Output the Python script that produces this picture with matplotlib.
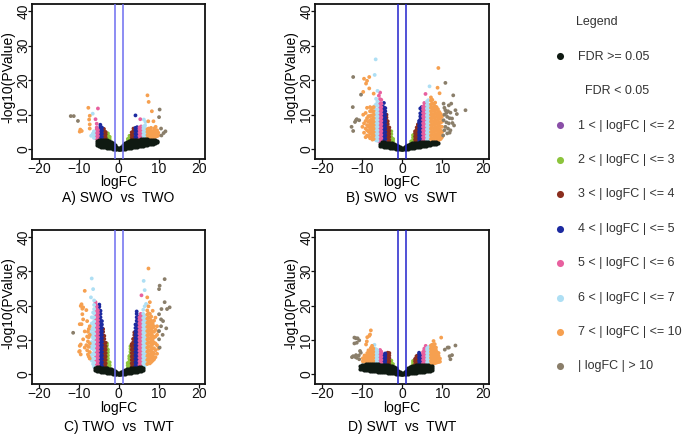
import numpy as np
import matplotlib
matplotlib.use("Agg")
import matplotlib.pyplot as plt

plt.rcParams['font.family'] = ['Liberation Sans', 'DejaVu Sans']

# ---------------- data (logFC, [-log10(PValue) values]) ----------------
panel_titles = ["A) SWO  vs  TWO", "B) SWO  vs  SWT", "C) TWO  vs  TWT", "D) SWT  vs  TWT"]

# FDR >= 0.05 (non significant) points
A_ns = [(-5.5,[1.2,1.9,2.5]),(-5.0,[0.9,1.6,2.3,2.8]),(-4.5,[0.8,1.5,2.2,2.8]),(-4.0,[0.7,1.4,2.1,2.8]),
        (-3.5,[0.6,1.3,2.0,2.7]),(-3.0,[0.5,1.2,1.9,2.6]),(-2.5,[0.4,1.1,1.8,2.4]),(-2.0,[0.3,0.9,1.6,2.2]),
        (-1.5,[0.2,0.8,1.4,1.9]),(-1.0,[0.1,0.6,1.2]),(-0.6,[0.05,0.4,0.8]),(-0.3,[0.0,0.35]),(0.0,[0.0,0.15]),
        (0.3,[0.0,0.35]),(0.6,[0.05,0.4,0.8]),(1.0,[0.1,0.6,1.2]),(1.5,[0.2,0.8,1.4,1.9]),(2.0,[0.3,0.9,1.6,2.2]),
        (2.5,[0.4,1.1,1.8,2.4]),(3.0,[0.5,1.2,1.9,2.6]),(3.5,[0.6,1.3,2.0,2.7]),(4.0,[0.7,1.4,2.1,2.8]),
        (4.5,[0.8,1.5,2.2,2.8]),(5.0,[0.9,1.6,2.3,2.8]),(5.5,[1.0,1.7,2.4,2.9]),(6.0,[1.1,1.8,2.5,3.0]),
        (6.5,[1.2,1.9,2.6,3.0]),(7.0,[1.3,2.0,2.6,3.0]),(7.5,[1.4,2.1,2.7]),(8.0,[1.5,2.1,2.7]),
        (8.5,[1.6,2.2,2.7]),(9.0,[1.8,2.3,2.6]),(9.5,[2.0,2.4])]

B_ns = [(-5.5,[1.0,1.6]),(-5.0,[0.9,1.5,2.0]),(-4.5,[0.8,1.4,2.0]),(-4.0,[0.7,1.3,1.9]),(-3.5,[0.6,1.2,1.9]),
        (-3.0,[0.5,1.1,1.8]),(-2.5,[0.4,1.0,1.7]),(-2.0,[0.3,0.9,1.5]),(-1.5,[0.2,0.8,1.3]),(-1.0,[0.1,0.6,1.0]),
        (-0.6,[0.05,0.4,0.7]),(-0.3,[0.0,0.3]),(0.0,[0.0,0.1]),(0.3,[0.0,0.3]),(0.6,[0.05,0.4,0.7]),
        (1.0,[0.1,0.6,1.0]),(1.5,[0.2,0.8,1.3]),(2.0,[0.3,0.9,1.5]),(2.5,[0.4,1.0,1.7]),(3.0,[0.5,1.1,1.8]),
        (3.5,[0.6,1.2,1.9]),(4.0,[0.7,1.3,1.9]),(4.5,[0.8,1.4,2.0]),(5.0,[0.9,1.5,2.0]),(5.5,[1.0,1.6,2.1]),
        (6.0,[1.1,1.7,2.1]),(6.5,[1.2,1.8,2.2]),(7.0,[1.3,1.9]),(7.5,[1.4,2.0]),(8.0,[1.5,2.0]),(8.5,[1.6,2.0]),(9.0,[1.7])]

C_ns = [(-6.0,[1.2,1.8]),(-5.5,[1.0,1.6,2.1]),(-5.0,[0.9,1.5,2.1]),(-4.5,[0.8,1.4,2.0]),(-4.0,[0.7,1.3,2.0]),
        (-3.5,[0.6,1.2,1.9]),(-3.0,[0.5,1.1,1.8]),(-2.5,[0.4,1.0,1.7]),(-2.0,[0.3,0.9,1.5]),(-1.5,[0.2,0.8,1.3]),
        (-1.0,[0.1,0.6,1.0]),(-0.6,[0.05,0.4,0.7]),(-0.3,[0.0,0.3]),(0.0,[0.0,0.1]),(0.3,[0.0,0.3]),
        (0.6,[0.05,0.4,0.7]),(1.0,[0.1,0.6,1.0]),(1.5,[0.2,0.8,1.3]),(2.0,[0.3,0.9,1.5]),(2.5,[0.4,1.0,1.7]),
        (3.0,[0.5,1.1,1.8]),(3.5,[0.6,1.2,1.9]),(4.0,[0.7,1.3,2.0]),(4.5,[0.8,1.4,2.0]),(5.0,[0.9,1.5,2.1]),
        (5.5,[1.0,1.6,2.1]),(6.0,[1.2,1.8])]

D_ns = [(-10.5,[1.7,2.4]),(-10.0,[1.5,2.2,2.8]),(-9.5,[1.4,2.1,2.8]),(-9.0,[1.3,2.0,2.7,3.0]),(-8.5,[1.2,1.9,2.6,3.0]),
        (-8.0,[1.1,1.8,2.5,3.0]),(-7.5,[1.0,1.7,2.4,3.0]),(-7.0,[0.9,1.6,2.3,2.9]),(-6.5,[0.9,1.6,2.3,2.9]),
        (-6.0,[0.8,1.5,2.2,2.9]),(-5.5,[0.7,1.4,2.1,2.8]),(-5.0,[0.7,1.4,2.1,2.8]),(-4.5,[0.6,1.3,2.0,2.7]),
        (-4.0,[0.6,1.3,2.0,2.7]),(-3.5,[0.5,1.2,1.9,2.6]),(-3.0,[0.5,1.2,1.9,2.5]),(-2.5,[0.4,1.1,1.8,2.4]),
        (-2.0,[0.3,0.9,1.6,2.2]),(-1.5,[0.2,0.8,1.4,1.8]),(-1.0,[0.1,0.6,1.1]),(-0.6,[0.05,0.4,0.7]),(-0.3,[0.0,0.3]),
        (0.0,[0.0,0.1]),(0.3,[0.0,0.3]),(0.6,[0.05,0.4,0.7]),(1.0,[0.1,0.6,1.1]),(1.5,[0.2,0.8,1.4,1.8]),
        (2.0,[0.3,0.9,1.6,2.2]),(2.5,[0.4,1.1,1.8,2.4]),(3.0,[0.5,1.2,1.9,2.5]),(3.5,[0.5,1.2,1.9,2.6]),
        (4.0,[0.6,1.3,2.0,2.7]),(4.5,[0.6,1.3,2.0,2.7]),(5.0,[0.7,1.4,2.1,2.7]),(5.5,[0.8,1.5,2.2,2.7]),
        (6.0,[0.9,1.6,2.3,2.7]),(6.5,[1.0,1.7,2.4,2.8]),(7.0,[1.1,1.8,2.5]),(7.5,[1.3,2.0,2.5])]

# FDR < 0.05 (significant) points, coloured by |logFC| class
A_sig = [(-2.25,[2.0,2.9,3.6]),(-2.7,[2.3,3.2,4.0,4.6]),
         (-3.25,[2.5,3.4,4.3,5.0]),(-3.7,[2.6,3.5,4.4,5.3,5.9]),
         (-4.2,[2.7,3.6,4.5,5.4,6.3]),(-4.6,[2.8,3.7,4.6,5.5,6.4,7.1]),(-4.9,[3.0,3.9,4.8,5.7]),
         (-5.2,[3.0,3.9,4.8,5.6,11.8]),(-5.5,[3.1,4.0,4.9,5.8,6.3,7.4]),(-5.8,[3.3,4.2,5.1,8.7]),
         (-6.2,[3.3,4.2,5.2]),(-6.5,[4.5,10.3]),(-6.9,[3.9]),
         (-7.25,[6.0,7.2,9.7]),(-7.4,[8.6]),(-7.6,[12.0]),(-9.25,[5.3]),(-9.6,[5.7]),(-9.75,[5.1]),
         (-10.2,[8.2]),(-11.25,[9.6]),(-12.0,[9.6]),
         (2.3,[2.2,3.0]),(2.7,[2.4,3.2,3.9]),
         (3.25,[2.5,3.4,4.2,4.9]),(3.7,[2.6,3.5,4.4,5.3,6.0]),
         (4.2,[2.7,3.6,4.5,5.4,6.2,9.8]),(4.6,[2.8,3.7,4.6,5.5,6.4]),(4.9,[3.0,3.9,4.8]),
         (5.2,[3.0,3.9,4.8,5.7,6.3]),(5.4,[8.7]),(5.6,[3.1,4.0,4.9,5.8,6.6]),(5.9,[3.3,4.2,5.1]),
         (6.2,[3.2,4.1,5.0,5.9,6.6]),(6.3,[8.6]),(6.6,[3.3,4.2,5.1,6.0,6.9]),(6.7,[7.9]),(6.9,[3.5,4.4,5.4]),
         (7.2,[3.2,4.1,5.0,5.8,15.6]),(7.4,[8.1]),(7.5,[3.3,4.2,5.1,6.0,13.7]),(7.8,[3.2,4.0,4.9,5.7]),
         (8.1,[3.3,4.2,5.1,6.2]),(8.3,[11.0]),(8.4,[3.4,4.3,5.2]),(8.7,[3.5,4.4,5.3,8.1]),
         (9.0,[3.6,4.5,5.4,6.1]),(9.25,[6.5]),(9.3,[3.7,4.6]),(9.6,[3.8,4.7,5.5]),(9.9,[4.0,4.8]),
         (10.1,[9.3]),(10.25,[11.5]),(10.6,[6.0]),(10.7,[4.0]),(11.25,[4.7]),(11.7,[5.2])]

B_sig = [(-2.25,[1.5,2.3,3.0]),(-2.7,[1.7,2.6,3.5,4.4,5.2]),
         (-3.2,[1.8,2.7,3.6,4.5,5.4,6.3]),(-3.6,[1.9,2.8,3.7,4.6,5.5,6.4,7.3,8.1]),
         (-3.9,[2.0,2.9,3.8,4.7,5.6,6.5,7.4,8.3,9.2,10.0]),
         (-4.2,[2.0,3.0,4.0,5.0,6.0,7.0,8.0,9.0,10.0,11.0,11.9]),
         (-4.55,[2.1,3.1,4.1,5.1,6.1,7.1,8.1,9.1,10.1,11.1,12.1,13.4]),
         (-4.85,[2.2,3.2,4.2,5.2,6.2,7.2,8.2,9.2,10.2,11.2,12.3]),
         (-5.2,[2.2,3.2,4.2,5.2,6.2,7.2,8.2,9.2,10.2,11.2,12.2,13.2,14.3]),
         (-5.5,[2.3,3.3,4.3,5.3,6.3,7.3,8.3,9.3,10.3,11.3,12.3,13.3,14.5,16.4]),
         (-5.8,[2.4,3.4,4.4,5.4,6.4,7.4,8.4,9.4,10.4,11.4,12.6,15.5]),
         (-6.15,[2.5,3.5,4.5,5.5,6.5,7.5,8.5,9.5,10.5,11.5,12.6,13.8,16.9]),
         (-6.5,[2.6,3.6,4.6,5.6,6.6,7.8,9.0,10.2,11.5,13.0,14.6]),(-6.6,[26.0]),
         (-6.85,[3.0,5.0,7.5,10.0,12.5,21.5]),
         (-7.1,[3.0,4.0,5.0,6.0,7.0,8.0,9.0,10.0,11.0,12.2,16.1]),(-7.4,[2.8,3.8,4.8,5.8,6.8,7.8,8.8,9.8,11.0,12.0]),
         (-7.7,[3.5,4.5,5.5,6.5,7.5,8.5,9.8,11.2]),(-8.0,[3.2,4.6,6.0,7.2,8.4,9.6,11.0,12.2]),(-8.2,[20.9,17.6]),
         (-8.4,[3.8,5.2,6.6,8.0,9.6]),(-8.75,[4.0,5.5,7.0,9.0,12.0,19.8]),(-9.0,[19.0]),(-9.1,[3.5,6.0,8.2,10.5]),
         (-9.5,[4.8,7.5,20.4]),(-9.7,[16.6,10.0]),(-9.9,[6.5]),
         (-10.25,[15.8]),(-10.7,[8.4]),(-11.3,[8.7]),(-11.5,[8.4]),(-11.75,[7.9]),(-12.2,[20.9,5.3]),(-12.3,[12.2]),(-12.6,[6.5]),
         (2.25,[1.6,2.3]),(2.7,[1.7,2.6,3.4,4.1]),
         (3.2,[1.9,2.8,3.7,4.6,5.2]),(3.6,[2.0,2.9,3.8,4.7,5.6,6.3]),(3.9,[2.1,3.0,3.9,4.8,5.7,6.6,7.2]),
         (4.2,[2.2,3.1,4.0,4.9,5.8,6.7,7.6,8.2]),(4.5,[2.3,3.2,4.1,5.0,5.9,6.8,7.7,8.6,9.5,10.4,11.8]),
         (4.85,[2.4,3.3,4.2,5.1,6.0,6.9,7.8,8.7,9.6,10.5,11.4,12.2]),
         (5.2,[2.5,3.5,4.5,5.5,6.5,7.5,8.5,9.5,10.5,11.5,12.3]),
         (5.5,[2.6,3.6,4.6,5.6,6.6,7.6,8.6,9.6,10.6,11.6,12.6,13.4]),
         (5.8,[2.7,3.7,4.7,5.7,6.7,7.7,8.7,9.7,10.7,11.7,12.7,16.0]),
         (6.15,[2.8,3.8,4.8,5.8,6.8,7.8,8.8,9.8,10.8,11.8,12.8,13.8]),
         (6.5,[2.9,3.9,4.9,5.9,6.9,7.9,8.9,9.9,10.9,11.9,13.0,14.2]),
         (6.8,[3.0,4.0,5.0,6.0,7.0,8.2,9.5,11.0,12.5,18.2]),
         (7.15,[2.0,3.0,4.0,5.0,6.0,7.0,8.0,9.0,10.0,11.0,12.0,13.0,14.1,15.0]),
         (7.5,[2.2,3.2,4.2,5.2,6.2,7.2,8.2,9.2,10.2,11.2,12.2,13.3,14.3]),
         (7.85,[2.1,3.1,4.1,5.1,6.1,7.1,8.1,9.1,10.1,11.1,12.1,13.1]),
         (8.2,[2.3,3.3,4.3,5.3,6.3,7.3,8.3,9.3,10.3,11.3,12.4,13.5]),
         (8.55,[2.4,3.4,4.4,5.4,6.4,7.4,8.4,9.4,10.4,11.4,12.2]),(8.8,[17.8]),
         (8.9,[2.6,3.6,4.6,5.6,6.6,7.6,8.6,9.6,10.6,11.6]),(9.0,[23.5]),
         (9.25,[2.8,3.8,4.8,5.8,6.8,7.8,8.8,9.8,10.8]),(9.3,[16.2]),
         (9.6,[3.0,4.2,5.4,6.6,7.8,9.0,10.2]),(9.9,[3.5,5.0,6.5,8.0,9.5]),
         (10.2,[4.0]),(10.3,[13.2,8.4]),(10.5,[10.0,5.5,12.0]),(10.75,[11.3,6.5,19.2]),(11.0,[7.8,10.5]),
         (11.2,[9.4,4.6]),(11.4,[6.0,11.0]),(11.6,[12.7,7.5]),(11.8,[9.0,4.8]),(12.0,[10.6,5.5]),(12.2,[13.2]),
         (12.4,[8.9]),(12.5,[7.6]),(12.7,[15.6]),(12.9,[6.9]),(13.25,[11.3]),(13.6,[10.2]),(15.75,[11.3])]

C_sig = [(-2.25,[0.8,1.7,2.6,3.5]),(-2.7,[1.0,1.9,2.8,3.7,4.6,5.5,6.4,7.2]),
         (-2.95,[1.2,2.1,3.0,3.9,4.8,5.7,6.6,7.5,8.4,9.0]),
         (-3.25,[1.2,2.2,3.2,4.2,5.2,6.2,7.2,8.2,9.2]),(-3.6,[1.3,2.3,3.3,4.3,5.3,6.3,7.3,8.3,9.3,10.3,11.2]),
         (-3.9,[1.4,2.4,3.4,4.4,5.4,6.4,7.4,8.4,9.4,10.4,11.4,12.4,13.2]),
         (-4.2,[1.5,2.5,3.5,4.5,5.5,6.5,7.5,8.5,9.5,10.5,11.5,12.5,13.5,14.5,15.5]),
         (-4.55,[1.6,2.6,3.6,4.6,5.6,6.6,7.6,8.6,9.6,10.6,11.6,12.6,13.6,14.6,15.6,16.6,17.6,18.5]),
         (-4.85,[1.7,2.7,3.7,4.7,5.7,6.7,7.7,8.7,9.7,10.7,11.7,12.7,13.7,14.7,15.7,16.7,17.7,18.7,19.7,20.3]),
         (-5.2,[1.8,2.8,3.8,4.8,5.8,6.8,7.8,8.8,9.8,10.8,11.8,12.8,13.8,14.8,15.8,16.8,17.8,18.6]),
         (-5.5,[1.9,2.9,3.9,4.9,5.9,6.9,7.9,8.9,9.9,10.9,11.9,12.9,13.9,14.9,15.9,16.9,17.9,18.9,19.8]),
         (-5.8,[2.0,3.0,4.0,5.0,6.0,7.0,8.0,9.0,10.0,11.0,12.0,13.0,14.0,15.0,16.2,17.5,18.8,20.4,21.0]),
         (-6.15,[2.2,3.4,4.6,5.8,7.0,8.2,9.4,10.6,11.8,13.0,14.2,15.4,16.6,17.8,19.0,20.2,21.5]),
         (-6.4,[3.0,4.5,6.0,7.5,9.0,10.5,12.0,13.5,15.0,16.5,18.0,24.8]),
         (-6.75,[4.0,5.8,7.6,9.4,11.2,13.0,14.8,16.6,27.9]),(-6.95,[5.0,8.5,12.0,22.4]),
         (-7.25,[4.6,6.5,9.0,11.5,14.0]),(-7.5,[5.2,8.0,10.8,13.2]),(-7.7,[5.8,9.6,12.4]),(-7.9,[15.5,7.0,11.0]),
         (-8.1,[18.7,8.5]),(-8.5,[24.3,7.8,12.5]),(-8.9,[16.0,10.2,19.5]),(-9.1,[19.1,17.5]),(-9.3,[14.6,20.4]),
         (-9.5,[5.8,8.7,19.9]),(-9.75,[6.8,8.3,14.6]),(-9.9,[6.6]),(-11.4,[12.1]),
         (2.25,[0.8,1.7,2.6,3.3]),(2.65,[1.0,1.9,2.8,3.7,4.6,5.3]),(2.95,[1.2,2.1,3.0,3.9,4.8,5.7,6.6,7.5,8.2]),
         (3.25,[1.2,2.2,3.2,4.2,5.2,6.2,7.2,8.2,8.8]),(3.6,[1.3,2.3,3.3,4.3,5.3,6.3,7.3,8.3,9.3,10.3]),
         (3.9,[1.4,2.4,3.4,4.4,5.4,6.4,7.4,8.4,9.4,10.4,11.4,12.2]),
         (4.2,[1.5,2.5,3.5,4.5,5.5,6.5,7.5,8.5,9.5,10.5,11.5,12.5,13.5,14.5]),
         (4.5,[1.6,2.6,3.6,4.6,5.6,6.6,7.6,8.6,9.6,10.6,11.6,12.6,13.6,14.6,15.6,16.6,17.6,18.3]),
         (4.85,[1.7,2.7,3.7,4.7,5.7,6.7,7.7,8.7,9.7,10.7,11.7,12.7,13.7,14.7,15.7,16.7]),
         (5.2,[1.8,2.8,3.8,4.8,5.8,6.8,7.8,8.8,9.8,10.8,11.8,12.8,13.8,14.8,15.8,16.6]),
         (5.5,[1.9,2.9,3.9,4.9,5.9,6.9,7.9,8.9,9.9,10.9,11.9,12.9,13.9,14.9,15.9,16.9,17.6]),(5.7,[23.0]),
         (5.85,[2.0,3.0,4.0,5.0,6.0,7.0,8.0,9.0,10.0,11.0,12.0,13.0,14.0,15.0,16.0,17.2]),
         (6.15,[2.2,3.2,4.2,5.2,6.2,7.2,8.2,9.2,10.2,11.2,12.2,13.2,14.2,15.2,16.4,17.6,18.8]),(6.25,[27.2]),
         (6.5,[2.5,3.7,4.9,6.1,7.3,8.5,9.7,10.9,12.1,13.3,14.5,15.7,17.0,19.8,24.5]),
         (6.85,[3.0,4.6,6.2,7.8,9.4,11.0,12.6,14.2,16.0,20.5]),
         (7.15,[3.0,4.2,5.4,6.6,7.8,9.0,10.2,11.4,12.6,13.8,15.0,16.2,17.4,18.6,22.4]),
         (7.45,[3.4,4.6,5.8,7.0,8.2,9.4,10.6,11.8,13.0,14.2,15.4,16.6,17.8,19.8,30.8]),
         (7.8,[3.2,4.4,5.6,6.8,8.0,9.2,10.4,11.6,12.8,14.0,15.2,16.4,17.6,21.0]),
         (8.15,[3.6,4.8,6.0,7.2,8.4,9.6,10.8,12.0,13.2,14.4,15.6,16.8]),
         (8.5,[4.0,5.2,6.4,7.6,8.8,10.0,11.2,12.4,13.6,14.8,18.5]),
         (8.85,[4.4,6.0,7.6,9.2,10.8,12.4,14.0,15.6]),(9.2,[5.0,7.0,9.0,11.0,13.0,16.5]),
         (9.6,[6.0,8.5,11.5,14.0]),(9.9,[7.5,12.5]),
         (10.1,[24.8,12.6,10.2,17.5]),(10.25,[7.8,25.8]),(10.6,[14.0,16.0]),(10.7,[19.0]),(11.0,[11.5]),
         (11.1,[15.5]),(11.5,[27.7,21.0]),(11.9,[13.4]),(12.1,[19.0]),(12.75,[19.5])]

D_sig = [(-2.3,[1.5,2.3,3.0]),(-2.7,[1.6,2.5,3.3,4.0]),
         (-3.2,[2.0,2.9,3.8,4.7,5.5,6.2]),(-3.6,[2.1,3.0,3.9,4.8,5.7,6.3]),(-3.9,[2.2,3.1,4.0,4.9,5.6]),
         (-4.2,[2.2,3.1,4.0,4.9,5.7,6.1]),(-4.55,[2.3,3.2,4.1,5.0,5.8]),(-4.85,[2.4,3.3,4.2,5.0]),
         (-5.2,[2.4,3.3,4.2,5.1,6.0,6.6]),(-5.5,[2.5,3.4,4.3,5.2,6.1,7.1]),(-5.8,[2.6,3.5,4.4,5.3,6.2,6.8]),
         (-6.2,[2.7,3.6,4.5,5.4,6.3,7.0]),(-6.5,[2.8,3.7,4.6,5.5,6.4,7.3]),(-6.9,[2.9,3.8,4.7,5.6,6.5,7.5,8.6]),
         (-7.2,[3.0,3.9,4.8,5.7,6.6,7.5]),(-7.5,[3.1,4.0,4.9,5.8,6.7,7.6,8.3]),(-7.8,[3.2,4.1,5.0,5.9,6.8,7.7,12.8]),
         (-8.0,[11.6]),(-8.1,[3.3,4.2,5.1,6.0,6.9]),(-8.2,[11.2]),(-8.4,[3.4,4.3,5.2,6.1,7.0]),
         (-8.7,[3.5,4.4,5.3,6.2,10.8]),(-8.8,[9.6]),(-9.0,[3.6,4.5,5.4,8.7]),(-9.4,[3.7,4.6,5.5]),(-9.8,[3.8,4.7]),
         (-10.3,[6.3]),(-10.5,[6.8]),(-10.7,[9.9,4.4]),(-10.8,[5.5]),(-11.1,[10.5]),(-11.3,[9.2,4.8]),
         (-11.5,[10.5,5.6]),(-11.75,[5.1]),(-11.9,[10.7,9.0]),(-12.2,[5.3]),(-12.5,[5.0]),
         (2.3,[1.6,2.3]),(2.7,[1.7,2.5,3.3,3.9]),
         (3.2,[2.0,2.9,3.8,4.5]),(3.55,[2.1,3.0,3.9,4.8,5.3]),(3.85,[2.2,3.1,4.0,4.9,5.5]),
         (4.2,[2.2,3.1,4.0,4.9,5.8,6.3]),(4.5,[2.3,3.2,4.1,5.0,5.7]),(4.85,[2.4,3.3,4.2,5.0]),
         (5.2,[2.4,3.3,4.2,5.1,6.0,6.5]),(5.5,[2.5,3.4,4.3,5.2,6.1,7.0,7.5]),(5.85,[2.6,3.5,4.4,5.3,6.2,7.1,8.3]),
         (6.2,[2.6,3.5,4.4,5.3,6.2,7.1,7.6]),(6.5,[2.7,3.6,4.5,5.4,6.3,7.2,7.9]),(6.85,[2.8,3.7,4.6,5.5,6.4,7.3,8.1]),
         (7.15,[3.0,3.9,4.8,5.7,6.6,7.5,8.4]),(7.45,[3.1,4.0,4.9,5.8,6.7,7.6,8.6]),
         (7.8,[3.2,4.1,5.0,5.9,6.8,7.7,8.5,9.7]),(8.1,[3.3,4.2,5.1,6.0,6.9,7.8,8.8]),
         (8.4,[3.4,4.3,5.2,6.1,7.0,7.8]),(8.7,[3.5,4.6,5.5,6.4]),(9.05,[3.6,4.5,5.4,6.2]),(9.4,[3.7,4.6]),
         (9.7,[10.7]),(10.6,[7.2]),(11.3,[7.8]),(11.6,[7.8]),(11.8,[5.3]),(12.0,[4.4]),(12.4,[5.6]),(13.25,[8.4])]

# legend classes
class_edges = [1, 2, 3, 4, 5, 6, 7, 10]
class_labels = ["1 < | logFC | <= 2", "2 < | logFC | <= 3", "3 < | logFC | <= 4", "4 < | logFC | <= 5",
                "5 < | logFC | <= 6", "6 < | logFC | <= 7", "7 < | logFC | <= 10", "| logFC | > 10"]
class_colors = ["#8a4fa8", "#8cc43c", "#8b2e1e", "#1c2aa0", "#e8609f", "#aedff4", "#f6a050", "#8a7e6a"]
ns_color = "#0f1a12"

# ---------------- drawing ----------------
def expand(cols):
    xs, ys = [], []
    for x, yl in cols:
        for y in yl:
            xs.append(x)
            ys.append(y)
    return np.array(xs), np.array(ys)

W, H = 690, 436
fig = plt.figure(figsize=(W / 100, H / 100), dpi=100)

boxes = [(32, 4, 173, 155), (315, 4, 174, 155), (32, 230, 173, 154), (315, 230, 174, 154)]
line_cols = ["#6e6ef0", "#2222cc", "#6e6ef0", "#2222cc"]
label_rows = [(182, 198), (182, 198), (408, 427), (408, 427)]
ns_sets = [A_ns, B_ns, C_ns, D_ns]
sig_sets = [A_sig, B_sig, C_sig, D_sig]

for i in range(4):
    l, t, w, h = boxes[i]
    ax = fig.add_axes([l / W, 1 - (t + h) / H, w / W, h / H])
    sx, sy = expand(sig_sets[i])
    idx = np.searchsorted(class_edges, np.abs(sx), side='left') - 1
    cols = [class_colors[k] for k in idx]
    ax.scatter(sx, sy, s=7.5, c=cols, linewidths=0, zorder=2)
    nx, ny = expand(ns_sets[i])
    ax.scatter(nx, ny, s=9, c=ns_color, linewidths=0, zorder=3)
    ax.axvline(-1, color=line_cols[i], lw=1.1, zorder=4)
    ax.axvline(1, color=line_cols[i], lw=1.1, zorder=4)
    ax.set_xlim(-21.7, 21.6)
    ax.set_ylim(-2.8, 42.0)
    ax.set_xticks([-20, -10, 0, 10, 20])
    ax.set_yticks([0, 10, 20, 30, 40])
    ax.tick_params(length=2.8, width=0.9, labelsize=10, colors="#111111")
    ax.tick_params(axis='x', pad=-0.8)
    ax.tick_params(axis='y', pad=-1.6, labelrotation=90)
    for lb in ax.get_yticklabels():
        lb.set_va('center')
    for sp in ax.spines.values():
        sp.set_linewidth(1.3)
        sp.set_color("#111111")
    cx = l + w / 2
    fig.text(cx / W, 1 - label_rows[i][0] / H, "logFC", ha='center', va='center', fontsize=10)
    fig.text(cx / W, 1 - label_rows[i][1] / H, panel_titles[i], ha='center', va='center', fontsize=10)
    fig.text((l - 23.5) / W, 1 - (t + h / 2 - 4) / H, "-log10(PValue)", ha='center', va='center',
             rotation=90, fontsize=10)

# legend panel
lax = fig.add_axes([0, 0, 1, 1])
lax.set_xlim(0, W)
lax.set_ylim(H, 0)
lax.axis('off')
txt_col = "#333333"
lax.text(576, 22, "Legend", ha='left', va='center', fontsize=9, color=txt_col)
lax.scatter([560], [56.5], s=26, c=ns_color, linewidths=0)
lax.text(578, 56.5, "FDR >= 0.05", ha='left', va='center', fontsize=9, color=txt_col)
lax.text(585, 90.5, "FDR < 0.05", ha='left', va='center', fontsize=9, color=txt_col)
for k in range(len(class_labels)):
    yy = 125.5 + 34.4 * k
    lax.scatter([560], [yy], s=26, c=class_colors[k], linewidths=0)
    lax.text(578, yy, class_labels[k], ha='left', va='center', fontsize=9, color=txt_col)

fig.savefig("out.png", dpi=100)
